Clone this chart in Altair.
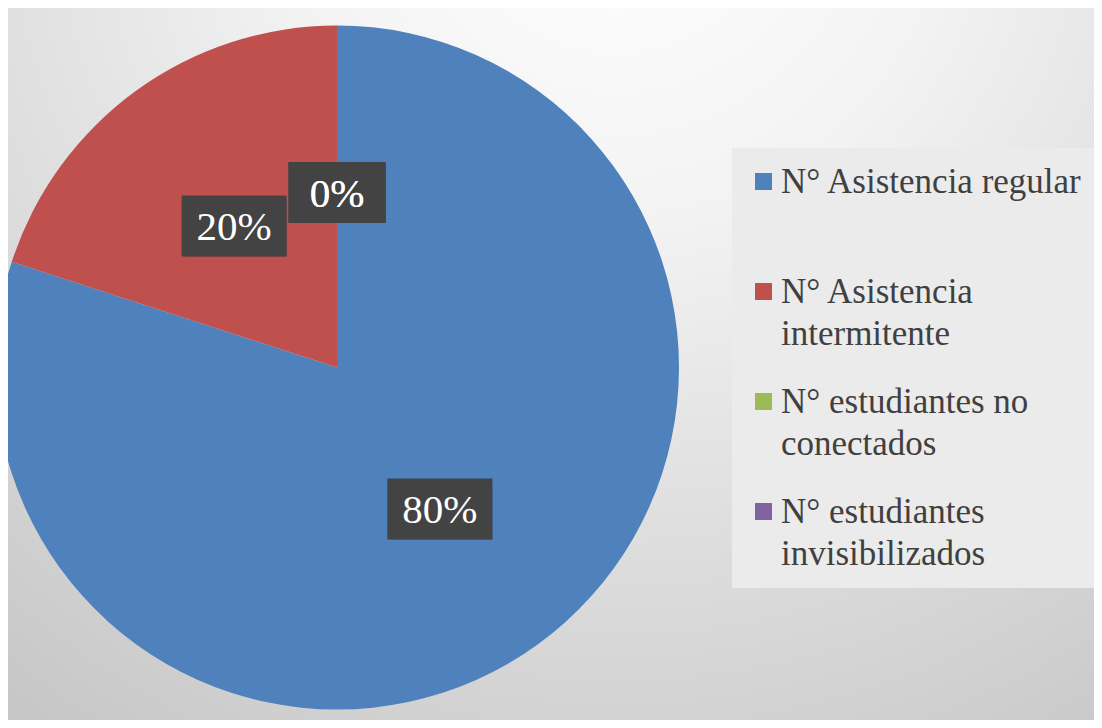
import altair as alt
import pandas as pd

# ---- data ----
categories = [
    "N° Asistencia regular",
    "N° Asistencia intermitente",
    "N° estudiantes no conectados",
    "N° estudiantes invisibilizados",
]
values = [80, 20, 0, 0]
colors = ["#4f81bd", "#c0504d", "#9bbb59", "#8064a2"]
legend_lines = [
    ["N° Asistencia regular", ""],
    ["N° Asistencia", "intermitente"],
    ["N° estudiantes no", "conectados"],
    ["N° estudiantes", "invisibilizados"],
]

df = pd.DataFrame({"cat": categories, "value": values, "order": list(range(len(categories)))})

# ---- layout ----
W, H = 1086, 712
CX, CY, R = 329, 359.5, 342
LR = 175
BOX_H = 61
FONT = "'Liberation Serif', 'Times New Roman', 'DejaVu Serif', serif"


def q(s):
    return "'" + s.replace("'", "\\'") + "'"


label_expr = " : ".join(
    f"datum.label == {q(c)} ? [{', '.join(q(l) for l in lines)}]"
    for c, lines in zip(categories, legend_lines)
) + " : datum.label"

bg_gradient = alt.RadialGradient(
    gradient="radial",
    x1=0.56, y1=0.06, r1=0.0,
    x2=0.56, y2=0.06, r2=1.0,
    stops=[
        alt.GradientStop(offset=0.0, color="#ffffff"),
        alt.GradientStop(offset=0.3, color="#f3f3f3"),
        alt.GradientStop(offset=1.0, color="#c2c2c2"),
    ],
)

base = alt.Chart(df)

bg = base.transform_aggregate(n="count()").mark_rect(color=bg_gradient).encode(
    x=alt.value(0), x2=alt.value(W), y=alt.value(0), y2=alt.value(H)
)

pie = base.mark_arc(radius=R, strokeWidth=0).encode(
    theta=alt.Theta("value:Q", stack=True),
    order=alt.Order("order:Q"),
    color=alt.Color(
        "cat:N",
        scale=alt.Scale(domain=categories, range=colors),
        sort=categories,
        legend=alt.Legend(
            title=None,
            orient="none",
            legendX=724,
            legendY=140,
            direction="vertical",
            fillColor="#ebebeb",
            padding=16,
            symbolType="square",
            symbolSize=289,
            symbolStrokeWidth=0,
            symbolOpacity=1,
            symbolOffset=-2,
            labelFont=FONT,
            labelFontSize=35,
            labelColor="#404040",
            labelLimit=600,
            labelOffset=0,
            rowPadding=32,
            labelExpr=label_expr,
        ),
    ),
    x=alt.value(CX),
    y=alt.value(CY),
)

lab = (
    base.transform_joinaggregate(total="sum(value)")
    .transform_window(cum="sum(value)", sort=[alt.SortField("order")])
    .transform_calculate(
        mid="(datum.cum - datum.value / 2) / datum.total * 2 * PI",
        pct="format(datum.value / datum.total, '.0%')",
    )
    .transform_calculate(
        lx=f"{CX} + {LR} * sin(datum.mid)",
        ly=f"{CY} - {LR} * cos(datum.mid)",
        w="81 + 8 * length(datum.pct)",
    )
    .transform_calculate(
        bx1="datum.lx - datum.w / 2",
        bx2="datum.lx + datum.w / 2",
        by1=f"datum.ly - {BOX_H / 2}",
        by2=f"datum.ly + {BOX_H / 2}",
    )
)

enc_box = dict(
    x=alt.X("bx1:Q", scale=None, axis=None),
    x2=alt.X2("bx2:Q"),
    y=alt.Y("by1:Q", scale=None, axis=None),
    y2=alt.Y2("by2:Q"),
)

shadow_outer = lab.mark_rect(color="#000000", opacity=0.10, xOffset=5, yOffset=6).encode(**enc_box)
shadow_inner = lab.mark_rect(color="#000000", opacity=0.22, xOffset=3, yOffset=4).encode(**enc_box)
boxes = lab.mark_rect(color="#434343").encode(**enc_box)
texts = lab.mark_text(
    font=FONT, fontSize=41, color="#ffffff", align="center", baseline="middle", dy=2
).encode(
    x=alt.X("lx:Q", scale=None, axis=None),
    y=alt.Y("ly:Q", scale=None, axis=None),
    text="pct:N",
)

chart = (
    alt.layer(bg, pie, shadow_outer, shadow_inner, boxes, texts)
    .properties(
        width=W, height=H, padding=0, background="#ffffff",
        autosize=alt.AutoSizeParams(type="none"),
    )
    .configure(style={"guide-label": {"lineHeight": 42}})
    .configure_view(strokeWidth=0)
)

chart.save("out.html", embed_options={"renderer": "svg", "actions": False})
